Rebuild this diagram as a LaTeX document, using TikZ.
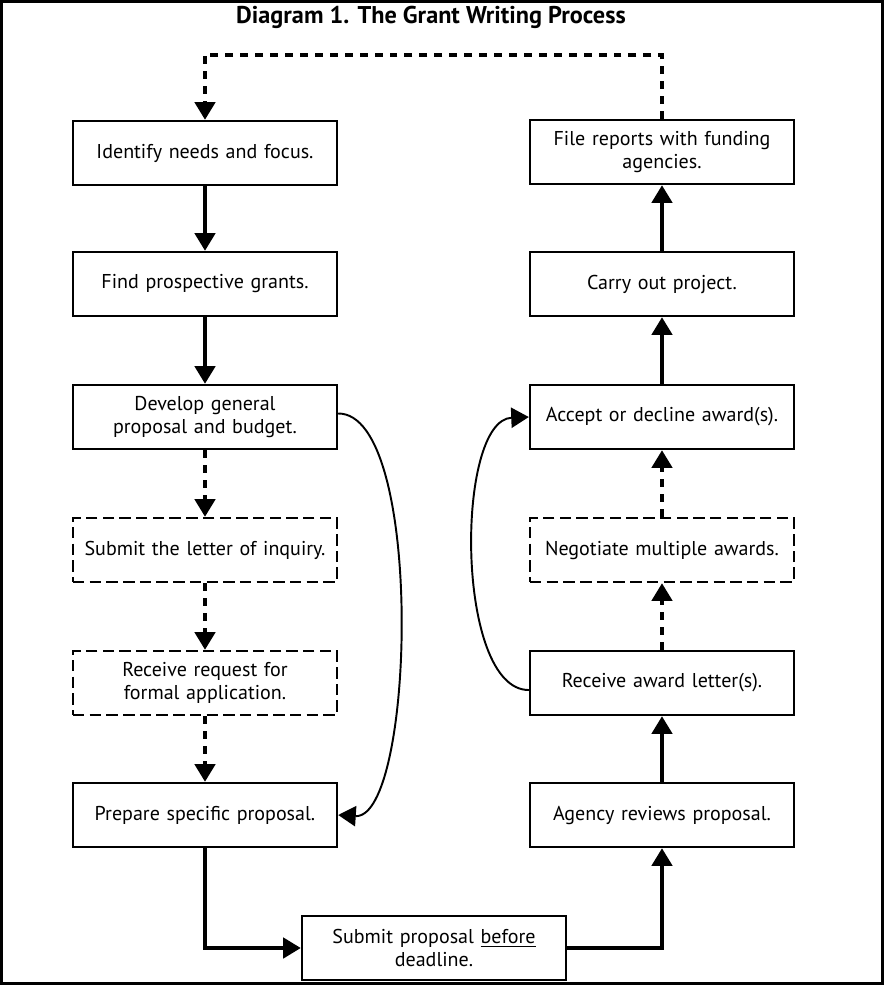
\documentclass[tikz,border=0pt]{standalone}
\usepackage{fontspec}
\setmainfont{PT Sans}
\usetikzlibrary{arrows.meta}

\tikzset{
  stepbox/.style={draw,line width=1.4pt,minimum width=5.28cm,minimum height=1.28cm,
    text width=5cm,inner sep=0pt,align=center,font=\fontsize{11.4}{13}\selectfont},
  optbox/.style={stepbox,dash pattern=on 6.5pt off 3pt},
  flow/.style={-{Triangle[length=10pt,width=11.5pt]},line width=2.1pt},
  optflow/.style={flow,dash pattern=on 4.5pt off 4pt},
  curvearrow/.style={-{Triangle[length=10pt,width=11.5pt]},line width=1.1pt},
}

\begin{document}
\begin{tikzpicture}[x=0.02cm,y=-0.02cm]
  \useasboundingbox (0,0) rectangle (884,985);
  \draw[line width=1.7pt] (1.5,1.5) rectangle (882.5,983.5);

  \node[font=\fontsize{13.8}{15}\selectfont\bfseries] (title) at (431,17) {Diagram 1. The Grant Writing Process};

  % left column
  \node[stepbox] (ident) at (205,153) {Identify needs and focus.};
  \node[stepbox] (find) at (205,284) {Find prospective grants.};
  \node[stepbox] (devel) at (205,417) {Develop general\\proposal and budget.};
  \node[optbox] (letter) at (205,550) {Submit the letter of inquiry.};
  \node[optbox] (request) at (205,683) {Receive request for\\formal application.};
  \node[stepbox] (prep) at (205,815) {Prepare specific proposal.};

  % bottom
  \node[stepbox] (submit) at (434,948) {Submit proposal \underline{before}\\deadline.};

  % right column
  \node[stepbox] (agency) at (662,815) {Agency reviews proposal.};
  \node[stepbox] (award) at (662,683) {Receive award letter(s).};
  \node[optbox] (negot) at (662,550) {Negotiate multiple awards.};
  \node[stepbox] (accept) at (662,417) {Accept or decline award(s).};
  \node[stepbox] (carry) at (662,284) {Carry out project.};
  \node[stepbox] (report) at (662,152) {File reports with funding\\agencies.};

  \draw[flow] (ident) -- (find);
  \draw[flow] (find) -- (devel);
  \draw[optflow] (devel) -- (letter);
  \draw[optflow] (letter) -- (request);
  \draw[optflow] (request) -- (prep);
  \draw[flow] (prep.south) |- (submit.west);
  \draw[flow] (submit.east) -| (agency.south);
  \draw[flow] (agency) -- (award);
  \draw[optflow] (award) -- (negot);
  \draw[optflow] (negot) -- (accept);
  \draw[flow] (accept) -- (carry);
  \draw[flow] (carry) -- (report);
  \draw[optflow] (report.north) -- ++(0,-64) -| (ident.north);

  % skipping the optional steps
  \draw[curvearrow] ([yshift=2pt]devel.east) .. controls (425,413) and (415,820) .. (prep.east);
  \draw[curvearrow] ([yshift=-4pt]award.west) .. controls (455,690) and (455,420) .. (accept.west);
\end{tikzpicture}
\end{document}
